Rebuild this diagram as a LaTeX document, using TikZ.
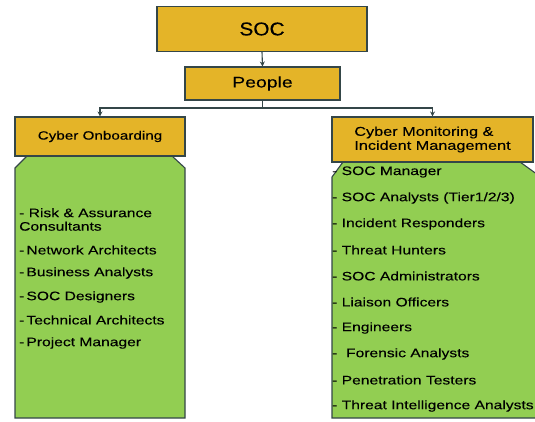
\documentclass[tikz,border=0pt]{standalone}
\usepackage{fontspec}
\setmainfont{Liberation Sans}[FakeStretch=1.27, FakeBold=0.15]
\newfontfamily\titlefont{Liberation Sans}[FakeStretch=1.12, FakeBold=0.15]
\usetikzlibrary{arrows.meta}
\definecolor{gold}{RGB}{228,180,40}
\definecolor{leaf}{RGB}{146,206,82}
\definecolor{edge}{RGB}{52,70,72}
\tikzset{
  head/.style={draw=edge, line width=1.1pt, fill=gold, inner sep=0pt, font=\fontsize{#1}{14}\selectfont},
  body/.style={draw=edge, line width=1.1pt, fill=leaf},
  item/.style={anchor=west, inner sep=0pt, font=\fontsize{12.3}{13.5}\selectfont, align=left},
  link/.style={draw=edge, line width=1.1pt},
  tip/.style={link, -{Stealth[length=5pt,width=5pt]}}
}
\begin{document}
\begin{tikzpicture}[x=1pt,y=-1pt]
\useasboundingbox (0,0) rectangle (535,421);
\clip (0,0) rectangle (535,421);
% green bodies of the two branches
\path[body] (15,168) -- (27,156) -- (172,156) -- (185,168) -- (185,418) -- (15,418) -- cycle;
\path[body] (332,177) -- (343,162) -- (520,162) -- (545,180) -- (545,418) -- (332,418) -- cycle;
% headers
\node[head=18.6, minimum width=210pt, minimum height=45pt] (soc) at (262,29) {\titlefont SOC};
\node[head=15.3, minimum width=155pt, minimum height=33pt] (people) at (262.5,83.5) {People};
\node[head=12, minimum width=170pt, minimum height=39pt] (onb) at (100,136.5) {Cyber Onboarding};
\node[head=12.8, minimum width=201pt, minimum height=45pt, align=left] (mon) at (432.5,139.5) {Cyber Monitoring \&\\Incident Management};
% connectors
\coordinate (split) at (262.5,108);
\draw[tip] (soc.south) -- (people.north);
\draw[link] (people.south) -- (split);
\draw[tip] (split) -| (onb.north);
\draw[tip] (split) -| (mon.north);
% left list
\node[item] (l1) at (19,219.5) {- Risk \& Assurance\\Consultants};
\node[item] (l2) at (19,250) {-\,Network Architects};
\node[item] (l3) at (19,273) {-\,Business Analysts};
\node[item] (l4) at (19,297) {-\,SOC Designers};
\node[item] (l5) at (19,320) {-\,Technical Architects};
\node[item] (l6) at (19,343) {-\,Project Manager};
% right list
\node[item] (r1) at (332,172) {- SOC Manager};
\node[item] (r2) at (332,198) {- SOC Analysts (Tier1/2/3)};
\node[item] (r3) at (332,224) {- Incident Responders};
\node[item] (r4) at (332,250) {- Threat Hunters};
\node[item] (r5) at (332,276) {- SOC Administrators};
\node[item] (r6) at (332,302) {- Liaison Officers};
\node[item] (r7) at (332,328) {- Engineers};
\node[item] (r8) at (332,354) {-\ \ Forensic Analysts};
\node[item] (r9) at (332,380) {- Penetration Testers};
\node[item] (r10) at (332,406) {- Threat Intelligence Analysts};
\end{tikzpicture}
\end{document}
